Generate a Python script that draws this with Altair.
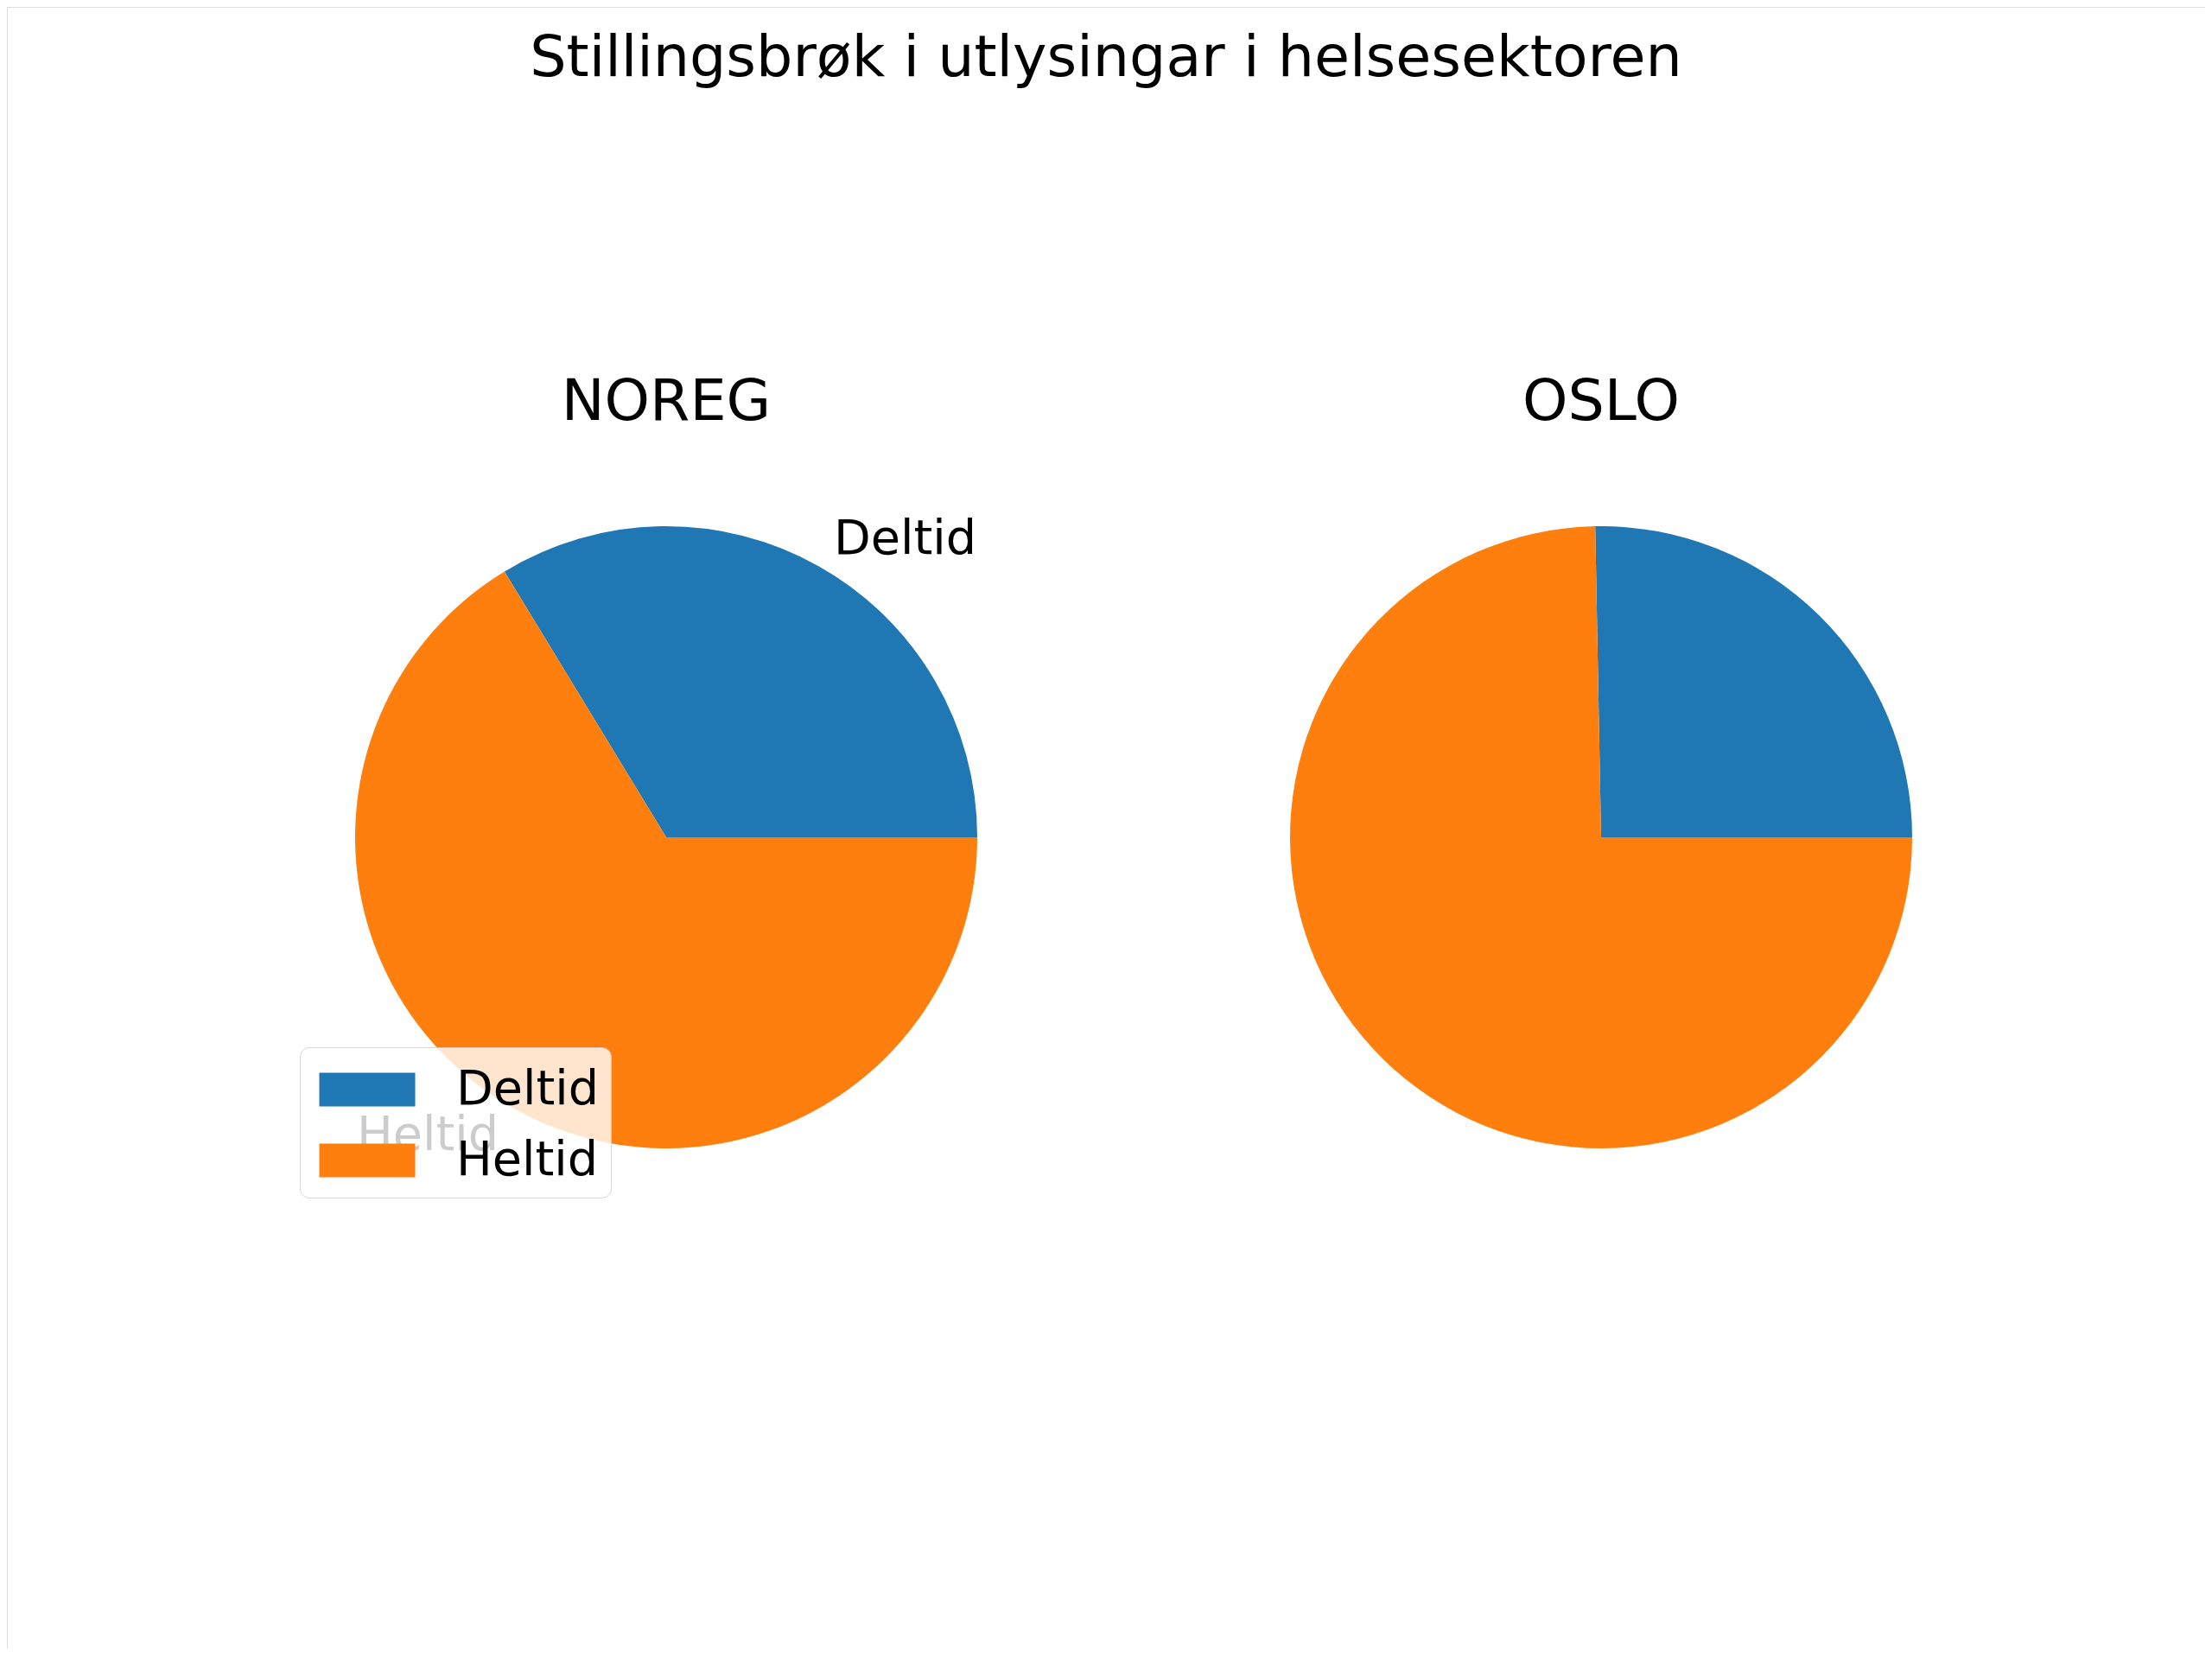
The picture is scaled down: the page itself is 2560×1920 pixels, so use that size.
import math
import altair as alt
import pandas as pd

# ---- data ----
categories = ["Deltid", "Heltid"]
noreg_share = [33.7, 66.3]
oslo_share = [25.3, 74.7]
regions = ["NOREG", "OSLO"]
colors = ["#1f77b4", "#ff7f0e"]
main_title = "Stillingsbrøk i utlysingar i helsesektoren"

rows = []
for i, c in enumerate(categories):
    rows.append({"region": "NOREG", "category": c, "value": noreg_share[i], "order": i})
for i, c in enumerate(categories):
    rows.append({"region": "OSLO", "category": c, "value": oslo_share[i], "order": i})
df = pd.DataFrame(rows)

FONT = "DejaVu Sans"
R = 360
CX = {"NOREG": 763, "OSLO": 1845}
CY = 961

theta_scale = alt.Scale(domain=[0, 1], range=[5 * math.pi / 2, math.pi / 2])
color_scale = alt.Scale(domain=categories, range=colors)

legend = alt.Legend(
    title=None,
    orient="none",
    legendX=339,
    legendY=1204,
    symbolType="M-1.586,-0.557L1.586,-0.557L1.586,0.557L-1.586,0.557Z",
    symbolSize=4900,
    symbolOffset=29,
    symbolStrokeWidth=0,
    symbolOpacity=1,
    labelFont=FONT,
    labelFontSize=55.6,
    labelColor="black",
    labelLimit=600,
    labelOffset=68,
    rowPadding=18,
    padding=14,
    fillColor="rgba(255,255,255,0.8)",
    strokeColor="rgba(204,204,204,0.8)",
    cornerRadius=11,
)


def pie(region, with_legend):
    return (
        alt.Chart(df)
        .transform_filter(alt.datum.region == region)
        .mark_arc(radius=R, strokeWidth=0)
        .encode(
            x=alt.value(CX[region]),
            y=alt.value(CY),
            theta=alt.Theta("value:Q", stack="normalize", scale=theta_scale),
            color=alt.Color(
                "category:N",
                scale=color_scale,
                legend=legend if with_legend else None,
            ),
            order=alt.Order("order:Q"),
        )
    )


def label_layer(region, cat, align):
    return (
        alt.Chart(df)
        .transform_filter(alt.datum.region == region)
        .transform_joinaggregate(total="sum(value)")
        .transform_window(cum="sum(value)", sort=[alt.SortField("order")])
        .transform_calculate(mid="(datum.cum - datum.value / 2) / datum.total")
        .transform_filter(alt.datum.category == cat)
        .mark_text(
            radius=R * 1.1,
            align=align,
            baseline="middle",
            font=FONT,
            fontSize=55.6,
            color="black",
        )
        .encode(
            x=alt.value(CX[region]),
            y=alt.value(CY),
            theta=alt.Theta("mid:Q", stack=None, scale=theta_scale),
            text="category:N",
        )
    )


def panel_title(region):
    return (
        alt.Chart(pd.DataFrame({"t": [region]}))
        .mark_text(font=FONT, fontSize=66.7, color="black", align="center", baseline="alphabetic")
        .encode(x=alt.value(CX[region]), y=alt.value(478), text="t:N")
    )


title_layer = (
    alt.Chart(pd.DataFrame({"t": [main_title]}))
    .mark_text(font=FONT, fontSize=66.7, color="black", align="center", baseline="alphabetic")
    .encode(x=alt.value(1272), y=alt.value(80), text="t:N")
)

chart = (
    alt.layer(
        pie("NOREG", True),
        pie("OSLO", False),
        label_layer("NOREG", "Deltid", "left"),
        label_layer("NOREG", "Heltid", "right"),
        panel_title("NOREG"),
        panel_title("OSLO"),
        title_layer,
    )
    .properties(
        width=2544,
        height=1900,
        autosize=alt.AutoSizeParams(type="fit", contains="padding"),
        padding=0,
    )
    .configure_view(stroke="transparent", strokeWidth=0)
    .configure_legend(strokeWidth=5.5)
    .configure(background="transparent")
)

chart.save("out.html", embed_options={"renderer": "svg", "actions": False})
